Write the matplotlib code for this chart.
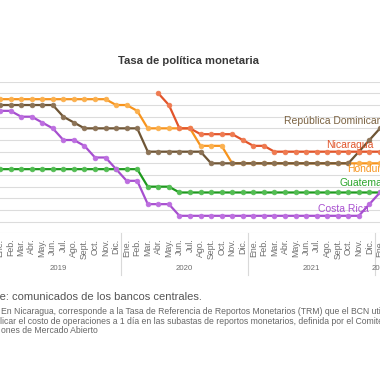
import numpy as np
import matplotlib
matplotlib.use("Agg")
import matplotlib.pyplot as plt
import matplotlib.transforms as mtransforms

plt.rcParams['font.family'] = ['Liberation Sans', 'DejaVu Sans']

# ---------------- data ----------------
meses = ["Ene.", "Feb.", "Mar.", "Abr.", "May.", "Jun.", "Jul.", "Ago.",
         "Sept.", "Oct.", "Nov.", "Dic."]
years = ["2019", "2020", "2021", "2022"]
months_per_year = [12, 12, 12, 1]
tick_labels = meses * 3 + ["Ene."]

nan = np.nan
honduras = [5.75, 5.75, 5.75, 5.75, 5.75, 5.75, 5.75, 5.75, 5.75, 5.75, 5.75, 5.5,
            5.5, 5.25, 4.5, 4.5, 4.5, 4.5, 4.5, 3.75, 3.75, 3.75, 3.0, 3.0,
            3.0, 3.0, 3.0, 3.0, 3.0, 3.0, 3.0, 3.0, 3.0, 3.0, 3.0, 3.0,
            3.0]
rep_dominicana = [5.5, 5.5, 5.5, 5.5, 5.5, 5.5, 5.0, 4.75, 4.5, 4.5, 4.5, 4.5,
                  4.5, 4.5, 3.5, 3.5, 3.5, 3.5, 3.5, 3.5, 3.0, 3.0, 3.0, 3.0,
                  3.0, 3.0, 3.0, 3.0, 3.0, 3.0, 3.0, 3.0, 3.0, 3.0, 3.5, 4.0,
                  4.5]
nicaragua = [nan, nan, nan, nan, nan, nan, nan, nan, nan, nan, nan, nan,
             nan, nan, nan, 6.0, 5.5, 4.5, 4.5, 4.25, 4.25, 4.25, 4.25, 4.0,
             3.75, 3.75, 3.5, 3.5, 3.5, 3.5, 3.5, 3.5, 3.5, 3.5, 3.5, 3.5,
             3.5]
guatemala = [2.75, 2.75, 2.75, 2.75, 2.75, 2.75, 2.75, 2.75, 2.75, 2.75, 2.75, 2.75,
             2.75, 2.75, 2.0, 2.0, 2.0, 1.75, 1.75, 1.75, 1.75, 1.75, 1.75, 1.75,
             1.75, 1.75, 1.75, 1.75, 1.75, 1.75, 1.75, 1.75, 1.75, 1.75, 1.75, 1.75,
             1.75]
costa_rica = [5.25, 5.25, 5.0, 5.0, 4.75, 4.5, 4.0, 4.0, 3.75, 3.25, 3.25, 2.75,
              2.25, 2.25, 1.25, 1.25, 1.25, 0.75, 0.75, 0.75, 0.75, 0.75, 0.75, 0.75,
              0.75, 0.75, 0.75, 0.75, 0.75, 0.75, 0.75, 0.75, 0.75, 0.75, 0.75, 1.25,
              1.75]

series = [
    ("Honduras", honduras, "#f7941d", "#fbb04e"),
    ("República Dominicana", rep_dominicana, "#6e5535", "#8c7356"),
    ("Nicaragua", nicaragua, "#e2542a", "#ef7a50"),
    ("Guatemala", guatemala, "#1e9a1e", "#52bd52"),
    ("Costa Rica", costa_rica, "#a64fcf", "#bd6ee0"),
]

# ---------------- layout helpers ----------------
W = H = 380.0
def fx(px):
    return px / W
def fy(py):
    return 1 - py / H

x0_px, step_px = -2.5, 10.83
y_top_px, y_bot_px = 81.7, 233.3

fig = plt.figure(figsize=(3.8, 3.8), dpi=100)
fig.patch.set_facecolor("white")
ax = fig.add_axes([0, fy(y_bot_px), 1, (y_bot_px - y_top_px) / H])
ax.set_xlim((0 - x0_px) / step_px, (W - x0_px) / step_px)
ax.set_ylim(0, 6.5)

xs = np.arange(len(tick_labels))
for name, vals, lc, mc in series:
    ax.plot(xs, np.array(vals, dtype=float), color=lc, lw=1.6, marker="o",
            ms=3.4, mfc=mc, mec=mc, mew=0.5, zorder=3, solid_capstyle="round")

ax.set_yticks(np.arange(0, 6.51, 0.5))
ax.yaxis.grid(True, color="#dcdcdc", lw=0.8)
ax.set_axisbelow(True)
ax.tick_params(axis="y", left=False, labelleft=False)
for s in ax.spines.values():
    s.set_visible(False)

ax.set_xticks(xs)
ax.set_xticklabels(tick_labels, rotation=90, fontsize=6.3, color="#6e6e6e",
                   va="top", ha="center")
ax.tick_params(axis="x", length=0, pad=4)

# year labels and separators
trans = mtransforms.blended_transform_factory(ax.transData, ax.transAxes)
axh = y_bot_px - y_top_px
start = 0
for yr, n in zip(years, months_per_year):
    center = start + (n - 1) / 2
    ax.text(center, -(269 - y_bot_px) / axh, yr, transform=trans, ha="center",
            va="center", fontsize=5.6, color="#6e6e6e", clip_on=False)
    sep = start + n - 0.5
    ax.plot([sep, sep], [0, -(275 - y_bot_px) / axh], transform=trans,
            color="#d9d9d9", lw=0.8, clip_on=False)
    start += n

# title
fig.text(fx(189), fy(61), "Tasa de política monetaria", ha="center", va="center",
         fontsize=8.1, fontweight="bold", color="#383838")

# series labels
labels = [
    ("República Dominicana", 284, 121, "#7b6241"),
    ("Nicaragua", 326, 145, "#e0552b"),
    ("Honduras", 347, 169.5, "#f7941d"),
    ("Guatemala", 339, 183.5, "#2ba52b"),
    ("Costa Rica", 318, 208.5, "#a950d0"),
]
for txt, px, py, c in labels:
    fig.text(fx(px), fy(py), txt, ha="left", va="center", fontsize=7.5, color=c)

# footer
fig.text(fx(202), fy(297), "Fuente: comunicados de los bancos centrales.",
         ha="right", va="center", fontsize=8, color="#555555")
notes = [
    (1, 311.7, "En Nicaragua, corresponde a la Tasa de Referencia de Reportos Monetarios (TRM) que el BCN utiliza para"),
    (0, 321.2, "licar el costo de operaciones a 1 día en las subastas de reportos monetarios, definida por el Comité de"),
    (1, 330.7, "ones de Mercado Abierto"),
]
for px, py, t in notes:
    fig.text(fx(px), fy(py), t, ha="left", va="center", fontsize=6.2, color="#666666")

fig.savefig("out.png", dpi=100)
